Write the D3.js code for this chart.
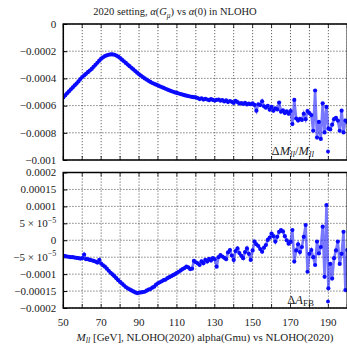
<!DOCTYPE html>
<html><head><meta charset="utf-8">
<script src="https://cdn.jsdelivr.net/npm/d3@7"></script>
<style>
body{margin:0;background:#fff}
svg{display:block}
text{font-family:"Liberation Serif","Times New Roman",serif;fill:#222}
</style>
</head><body><svg id="c" width="347" height="345"></svg>
<script>
// ---------------- data ----------------
const massStart = 50, massEnd = 200;           // GeV, 1 GeV bins
// Delta M_ll / M_ll, in units of 1e-4
const dMM = [
 -5.40,-5.25,-5.10,-4.95,-4.80,-4.66,-4.52,-4.38,-4.22,-4.05,
 -3.90,-3.78,-3.66,-3.54,-3.42,-3.30,-3.15,-3.00,-2.85,-2.70,
 -2.55,-2.45,-2.36,-2.30,-2.26,-2.24,-2.24,-2.26,-2.32,-2.40,
 -2.50,-2.62,-2.74,-2.86,-2.98,-3.10,-3.22,-3.34,-3.46,-3.58,
 -3.70,-3.80,-3.90,-4.00,-4.09,-4.18,-4.26,-4.34,-4.40,-4.46,
 -4.52,-4.58,-4.64,-4.70,-4.76,-4.82,-4.88,-4.93,-4.98,-5.03,
 -5.07,-5.11,-5.15,-5.19,-5.23,-5.27,-5.30,-5.33,-5.36,-5.38,
 -5.40,-5.45,-5.52,-5.46,-5.56,-5.50,-5.55,-5.60,-5.52,-5.58,
 -5.63,-5.58,-5.55,-5.64,-5.60,-5.70,-5.62,-5.74,-5.66,-5.72,
 -5.80,-5.65,-5.74,-5.85,-5.82,-5.88,-5.80,-5.92,-5.86,-5.90,
 -5.84,-5.95,-6.37,-5.90,-5.96,-5.68,-6.05,-6.15,-6.02,-6.30,
 -6.10,-6.38,-6.20,-6.28,-5.78,-6.45,-6.35,-6.55,-6.42,-6.60,
 -6.40,-7.36,-5.58,-6.95,-7.10,-6.98,-7.05,-6.60,-7.00,-6.40,
 -6.55,-6.70,-7.85,-4.89,-8.35,-7.20,-8.45,-5.83,-7.97,-6.10,
 -7.70,-7.75,-7.40,-7.00,-6.90,-7.10,-7.85,-6.37,-7.97,-7.10,
 -7.20
];
// Delta A_FB, in units of 1e-5
const dAFB = [
 -4.6,-4.7,-4.8,-4.9,-5.0,-5.0,-5.1,-5.2,-5.3,-5.4,
 -5.3,-4.2,-5.6,-5.6,-5.8,-5.9,-6.1,-6.3,-6.6,-5.8,
 -6.9,-7.4,-7.8,-8.4,-9.0,-9.6,-10.1,-10.6,-11.2,-11.8,
 -12.3,-12.8,-13.3,-13.8,-14.2,-14.5,-14.8,-15.1,-15.4,-15.6,
 -15.5,-15.4,-15.3,-15.2,-14.9,-14.6,-14.4,-14.0,-13.7,-13.1,
 -12.7,-12.4,-12.1,-11.8,-11.6,-11.2,-10.9,-10.6,-10.3,-10.0,
 -9.6,-9.3,-8.9,-8.5,-8.2,-7.8,-8.0,-8.5,-8.4,-6.1,
 -6.5,-6.8,-7.3,-6.2,-6.8,-5.8,-6.3,-5.5,-6.0,-5.3,
 -5.6,-7.8,-5.0,-4.4,-4.8,-5.2,-5.6,-3.6,-2.9,-4.5,
 -5.8,-3.2,-2.4,-3.8,-4.6,-5.3,-3.5,-2.4,-4.0,-5.8,
 -3.0,-0.4,-1.2,-1.7,-2.6,-3.4,-2.2,-1.4,0.1,0.8,
 2.0,1.2,-0.4,1.0,2.5,3.0,2.6,1.2,0.0,-1.0,
 -0.5,3.0,-6.3,-3.0,-1.2,-3.5,-2.0,1.0,4.5,-9.3,
 -4.0,-2.9,-5.0,-7.3,-0.4,-3.9,-2.0,4.0,-10.8,10.4,
 -14.2,-7.0,-11.3,-5.3,-3.0,-0.4,-7.0,-4.0,2.5,-14.7,
 -2.9
];
const xTickValues = [50,70,90,110,130,150,170,190];
const xGridValues = [50,60,70,80,90,100,110,120,130,140,150,160,170,180,190,200];
const topTickValues = [0,-0.0002,-0.0004,-0.0006,-0.0008,-0.001];
const topTickLabels = ["0","−0.0002","−0.0004","−0.0006","−0.0008","−0.001"];
const botTickValues = [0.0002,0.00015,0.0001,0.00005,0,-0.00005,-0.0001,-0.00015,-0.0002];
const botTickLabels = ["0.0002","0.00015","0.0001","5 × 10^−5","0","−5 × 10^−5","−0.0001","−0.00015","−0.0002"];

// ---------------- layout ----------------
const svg = d3.select("#c");
const L = 63.3, R = 347.3;
const topP = {y0: 24, y1: 160};
const botP = {y0: 172.5, y1: 308};
const BLUE = "#0a0aff";

const x = d3.scaleLinear().domain([massStart, massEnd]).range([L, R]);
const yTop = d3.scaleLinear().domain([-0.001, 0]).range([topP.y1, topP.y0]);
const yBot = d3.scaleLinear().domain([-0.0002, 0.0002]).range([botP.y1, botP.y0]);

const topData = dMM.map((v, i) => ({m: massStart + i, v: v * 1e-4}));
const botData = dAFB.map((v, i) => ({m: massStart + i, v: v * 1e-5}));

function richText(g, segs, attrs) {
  const t = g.append("text");
  Object.entries(attrs).forEach(([k, v]) => t.attr(k, v));
  segs.forEach(s => {
    const ts = t.append("tspan").text(s.t);
    if (s.i) ts.attr("font-style", "italic");
    if (s.dy) ts.attr("dy", s.dy);
    if (s.fs) ts.attr("font-size", s.fs);
  });
  return t;
}

function panel(P, y, data, tickVals, tickLabels) {
  const g = svg.append("g");
  // grid
  g.append("g").selectAll("line").data(xGridValues).join("line")
    .attr("x1", d => x(d)).attr("x2", d => x(d))
    .attr("y1", P.y0).attr("y2", P.y1)
    .attr("stroke", "#333").attr("stroke-width", 0.75).attr("stroke-dasharray", "1.2,1.8");
  g.append("g").selectAll("line").data(tickVals).join("line")
    .attr("x1", L).attr("x2", R)
    .attr("y1", d => y(d)).attr("y2", d => y(d))
    .attr("stroke", "#333").attr("stroke-width", 0.75).attr("stroke-dasharray", "1.2,1.8");
  // inner ticks top/bottom
  g.append("g").selectAll("line").data(xGridValues).join("line")
    .attr("x1", d => x(d)).attr("x2", d => x(d))
    .attr("y1", P.y1).attr("y2", P.y1 - 4)
    .attr("stroke", "#000").attr("stroke-width", 0.8);
  g.append("g").selectAll("line").data(xGridValues).join("line")
    .attr("x1", d => x(d)).attr("x2", d => x(d))
    .attr("y1", P.y0).attr("y2", P.y0 + 4)
    .attr("stroke", "#000").attr("stroke-width", 0.8);
  // y axis
  const ax = g.append("g").attr("transform", `translate(${L},0)`)
    .call(d3.axisLeft(y).tickValues(tickVals).tickSize(-4).tickPadding(7).tickFormat(""));
  ax.select(".domain").remove();
  ax.selectAll("line").attr("stroke", "#000");
  tickVals.forEach((v, i) => {
    const lab = tickLabels[i];
    const parts = lab.split("^");
    const segs = [{t: parts[0]}];
    if (parts[1]) segs.push({t: parts[1], dy: -4.5, fs: 8});
    richText(g, segs, {x: L - 7, y: y(v) + 3.8, "text-anchor": "end", "font-size": 11});
  });
  // data
  const clip = "clip" + P.y0;
  svg.append("clipPath").attr("id", clip).append("rect")
    .attr("x", L).attr("y", P.y0).attr("width", R - L).attr("height", P.y1 - P.y0);
  const dg = g.append("g").attr("clip-path", `url(#${clip})`);
  dg.append("path").datum(data)
    .attr("d", d3.line().x(d => x(d.m)).y(d => y(d.v)))
    .attr("fill", "none").attr("stroke", BLUE).attr("stroke-opacity", 0.55).attr("stroke-width", 2.6);
  dg.selectAll("circle").data(data).join("circle")
    .attr("cx", d => x(d.m)).attr("cy", d => y(d.v)).attr("r", 2.1).attr("fill", BLUE);
  // frame
  g.append("rect").attr("x", L).attr("y", P.y0).attr("width", R - L).attr("height", P.y1 - P.y0)
    .attr("fill", "none").attr("stroke", "#000").attr("stroke-width", 1.5);
  return g;
}

panel(topP, yTop, topData, topTickValues, topTickLabels);
panel(botP, yBot, botData, botTickValues, botTickLabels);

// x tick labels
svg.append("g").selectAll("text").data(xTickValues).join("text")
  .attr("x", d => x(d)).attr("y", 325.5).attr("text-anchor", "middle").attr("font-size", 11)
  .text(d => d);

// title
richText(svg, [
  {t: "2020 setting, "}, {t: "α", i: 1}, {t: "("}, {t: "G", i: 1},
  {t: "μ", i: 1, dy: 2.5, fs: 7.5}, {t: ") vs ", dy: -2.5}, {t: "α", i: 1}, {t: "(0) in NLOHO"}
], {x: 175, y: 15, "text-anchor": "middle", "font-size": 10.5});

// x axis title
richText(svg, [
  {t: "M", i: 1}, {t: "ll", i: 1, dy: 2.5, fs: 8}, {t: " [GeV], NLOHO(2020) alpha(Gmu) vs NLOHO(2020)", dy: -2.5}
], {x: 205, y: 340.5, "text-anchor": "middle", "font-size": 11});

// legends
richText(svg, [
  {t: "Δ"}, {t: "M", i: 1}, {t: "ll", i: 1, dy: 2.5, fs: 9}, {t: "/", dy: -2.5}, {t: "M", i: 1}, {t: "ll", i: 1, dy: 2.5, fs: 9}
], {x: 314, y: 154.5, "text-anchor": "end", "font-size": 12.5});
svg.append("circle").attr("cx", 328).attr("cy", 151.5).attr("r", 1.9).attr("fill", BLUE);

richText(svg, [
  {t: "Δ"}, {t: "A", i: 1}, {t: "FB", dy: 2.5, fs: 9}
], {x: 314, y: 303.5, "text-anchor": "end", "font-size": 12.5});
svg.append("circle").attr("cx", 328).attr("cy", 301.5).attr("r", 1.9).attr("fill", BLUE);
</script>
</body></html>
